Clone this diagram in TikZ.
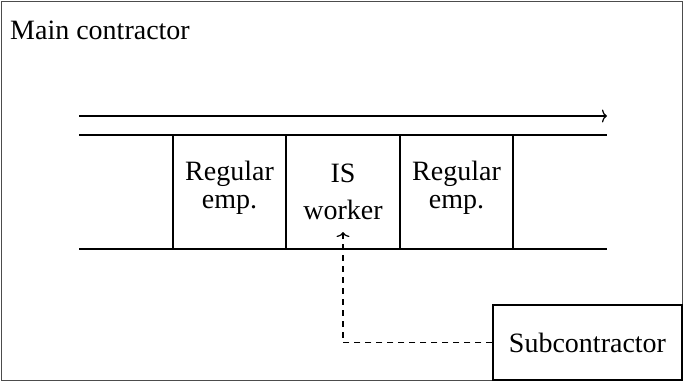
\documentclass[tikz,border=0pt]{standalone}
\usepackage{fontspec}
\setmainfont{Liberation Serif}
\usetikzlibrary{arrows.meta}
\begin{document}
\begin{tikzpicture}[x=1pt,y=-1pt,
  ln/.style={line width=1.2pt},
  cell/.style={ln,draw,minimum width=113pt,minimum height=114pt,inner sep=0pt},
  txt/.style={anchor=base,inner sep=0pt,font=\fontsize{28}{34}\selectfont},
  tip/.style={-{To[length=5pt,width=13pt]}}]
\useasboundingbox (0,0) rectangle (683,381);
\draw[line width=1pt,black!70] (1,1) rectangle (682,380);
\node[txt,anchor=base west] (main) at (10,39) {Main contractor};
\coordinate (al) at (79,116);
\coordinate (ar) at (607,116);
\draw[ln,tip] (al) -- (ar);
\coordinate (tl) at (79,135);
\coordinate (tr) at (607,135);
\coordinate (bl) at (79,249);
\coordinate (br) at (607,249);
\draw[ln] (tl) -- (tr);
\draw[ln] (bl) -- (br);
\node[cell] (c1) at (229.5,192) {};
\node[cell] (c2) at (343,192) {};
\node[cell] (c3) at (456.5,192) {};
\node[txt] (r1a) at (229.5,180) {Regular};
\node[txt] (r1b) at (229.5,208) {emp.};
\node[txt] (isa) at (343,182) {IS};
\node[txt] (isb) at (343,219) {worker};
\node[txt] (r2a) at (456.5,180) {Regular};
\node[txt] (r2b) at (456.5,208) {emp.};
\node[ln,draw,minimum width=189pt,minimum height=75pt,inner sep=0pt,font=\fontsize{28}{34}\selectfont] (sub) at (587.5,342.5) {Subcontractor};
\draw[ln,tip,dash pattern=on 6pt off 5pt] (sub.west) -| ([yshift=-13pt]isb.base);
\end{tikzpicture}
\end{document}
